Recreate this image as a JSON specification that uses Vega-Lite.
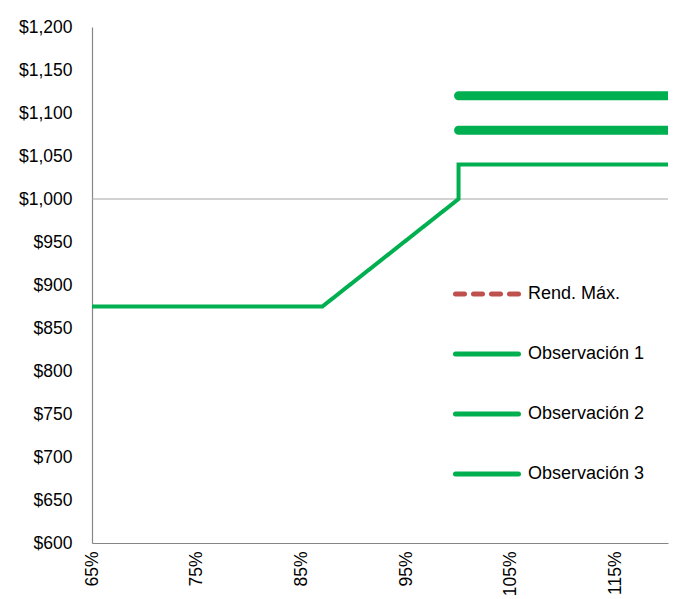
{
  "$schema": "https://vega.github.io/schema/vega-lite/v6.json",
  "autosize": "none",
  "padding": {"left": 92, "top": 27, "right": 19, "bottom": 56},
  "width": 576,
  "height": 516,
  "config": {
    "view": {"stroke": null},
    "font": "Liberation Sans",
    "axis": {"labelFont": "Liberation Sans", "labelFontSize": 17.5, "labelColor": "#000000", "domainColor": "#868686", "domainWidth": 1.2, "ticks": false, "grid": false, "title": null},
    "legend": {"title": null, "orient": "none", "legendX": 361, "legendY": 233, "symbolType": "stroke", "symbolSize": 3969, "symbolStrokeWidth": 5, "labelFontSize": 18, "labelFont": "Liberation Sans", "labelColor": "#000000", "labelOffset": 7, "rowPadding": 16}
  },
  "datasets": {
    "lines": [
      {"series": "Observación 1", "pct": 65, "value": 875, "i": 1},
      {"series": "Observación 1", "pct": 87, "value": 875, "i": 2},
      {"series": "Observación 1", "pct": 100, "value": 1000, "i": 3},
      {"series": "Observación 1", "pct": 100, "value": 1040, "i": 4},
      {"series": "Observación 1", "pct": 120, "value": 1040, "i": 5},
      {"series": "Observación 2", "pct": 100, "value": 1080, "i": 1},
      {"series": "Observación 2", "pct": 120, "value": 1080, "i": 2},
      {"series": "Observación 3", "pct": 100, "value": 1120, "i": 1},
      {"series": "Observación 3", "pct": 120, "value": 1120, "i": 2}
    ],
    "ref": [{"value": 1000}]
  },
  "encoding": {
    "x": {
      "field": "pct", "type": "quantitative",
      "scale": {"domain": [65, 120], "nice": false, "zero": false},
      "axis": {"values": [65, 75, 85, 95, 105, 115], "labelExpr": "datum.value + '%'", "labelAngle": -90, "labelAlign": "right", "labelBaseline": "middle", "labelPadding": 8}
    },
    "y": {
      "field": "value", "type": "quantitative",
      "scale": {"domain": [600, 1200], "nice": false, "zero": false},
      "axis": {"values": [600, 650, 700, 750, 800, 850, 900, 950, 1000, 1050, 1100, 1150, 1200], "format": "$,.0f", "labelPadding": 20}
    }
  },
  "layer": [
    {
      "data": {"name": "ref"},
      "mark": {"type": "rule", "color": "#A6A6A6", "strokeWidth": 1.2},
      "encoding": {
        "x": null,
        "y": {"field": "value", "type": "quantitative"}
      }
    },
    {
      "data": {"name": "lines"},
      "transform": [{"filter": "datum.series === 'Observación 1'"}],
      "mark": {"type": "line", "clip": true, "strokeCap": "round", "strokeWidth": 4},
      "encoding": {
        "order": {"field": "i", "type": "quantitative"},
        "color": {
          "field": "series", "type": "nominal",
          "scale": {"domain": ["Rend. Máx.", "Observación 1", "Observación 2", "Observación 3"], "range": ["#C0504D", "#00B050", "#00B050", "#00B050"]},
          "legend": {"encode": {"symbols": {"update": {"strokeCap": {"value": "round"}}}}}
        },
        "strokeDash": {
          "field": "series", "type": "nominal",
          "scale": {"domain": ["Rend. Máx.", "Observación 1", "Observación 2", "Observación 3"], "range": [[9, 9], [1, 0], [1, 0], [1, 0]]}
        }
      }
    },
    {
      "data": {"name": "lines"},
      "transform": [{"filter": "datum.series !== 'Observación 1'"}],
      "mark": {"type": "line", "clip": true, "strokeCap": "round", "strokeWidth": 9},
      "encoding": {
        "order": {"field": "i", "type": "quantitative"},
        "color": {"field": "series", "type": "nominal"},
        "strokeDash": {"field": "series", "type": "nominal"}
      }
    }
  ]
}
